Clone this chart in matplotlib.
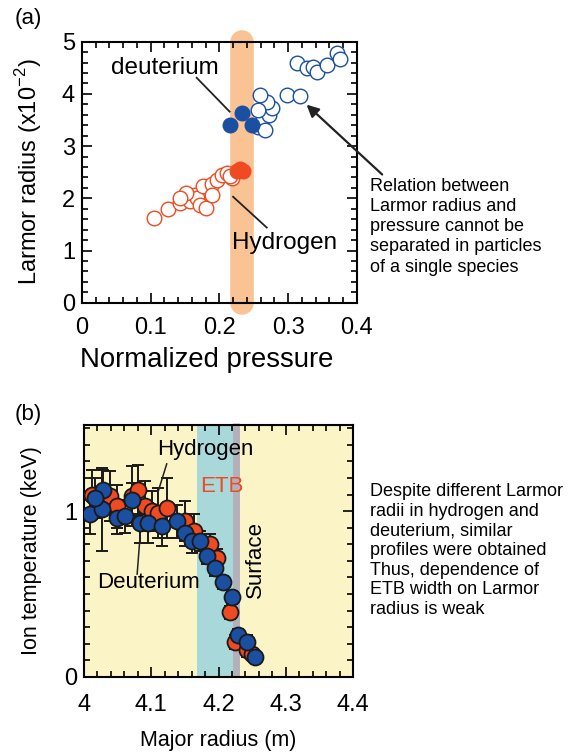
import matplotlib
matplotlib.use("Agg")
import matplotlib.pyplot as plt
from matplotlib.ticker import MultipleLocator

plt.rcParams['font.family'] = ['Liberation Sans', 'DejaVu Sans']

# ---- panel (a) data: normalized pressure vs Larmor radius (x1e-2)
h_open_p = [0.105, 0.125, 0.143, 0.157, 0.164, 0.167, 0.172, 0.181, 0.176,
            0.189, 0.189, 0.196, 0.204, 0.211, 0.218, 0.152, 0.143, 0.215]
h_open_r = [1.63, 1.79, 1.91, 1.95, 2.07, 2.00, 1.88, 1.82, 2.23,
            2.27, 2.07, 2.36, 2.45, 2.48, 2.39, 2.10, 2.00, 2.42]
h_fill_p = [0.225, 0.230, 0.235]
h_fill_r = [2.52, 2.57, 2.53]
d_fill_p = [0.215, 0.233, 0.247]
d_fill_r = [3.41, 3.63, 3.41]
d_open_p = [0.256, 0.261, 0.263, 0.273, 0.276, 0.269, 0.259, 0.256, 0.266, 0.298,
            0.317, 0.313, 0.327, 0.336, 0.342, 0.356, 0.372, 0.375]
d_open_r = [3.37, 3.40, 3.54, 3.60, 3.73, 3.85, 3.98, 3.70, 3.30, 3.98,
            3.96, 4.60, 4.50, 4.52, 4.42, 4.56, 4.79, 4.66]

# ---- panel (b) data: major radius vs ion temperature
h_R = [4.012, 4.039, 4.049, 4.071, 4.080, 4.091, 4.101, 4.110, 4.123,
       4.150, 4.163, 4.187, 4.198, 4.217, 4.225, 4.242, 4.250]
h_T = [1.10, 1.09, 1.03, 1.09, 1.13, 1.03, 1.00, 0.99, 1.02,
       0.94, 0.88, 0.80, 0.72, 0.39, 0.21, 0.16, 0.14]
h_err = [0.15, 0.15, 0.13, 0.18, 0.15, 0.15, 0.12, 0.15, 0.18,
         0.12, 0.10, 0.06, 0.05, 0.04, 0.04, 0.04, 0.03]
d_R = [4.009, 4.027, 4.028, 4.016, 4.049, 4.061, 4.071, 4.083, 4.095, 4.116,
       4.138, 4.150, 4.160, 4.172, 4.183, 4.195, 4.207, 4.220, 4.229, 4.242, 4.254]
d_T = [0.98, 1.01, 1.13, 1.08, 0.96, 0.97, 1.07, 0.93, 0.93, 0.91,
       0.94, 0.87, 0.82, 0.82, 0.73, 0.66, 0.57, 0.48, 0.25, 0.21, 0.12]
d_err = [0.12, 0.25, 0.12, 0.12, 0.10, 0.10, 0.10, 0.12, 0.12, 0.12,
         0.10, 0.08, 0.07, 0.06, 0.05, 0.05, 0.04, 0.04, 0.04, 0.04, 0.03]

RED = '#EF4A22'
BLUE = '#1A4FA2'

fig = plt.figure(figsize=(5.81, 7.53), dpi=100)


def style_axes(ax):
    for s in ax.spines.values():
        s.set_linewidth(1.5)
    ax.tick_params(which='both', direction='in', top=True, right=True, width=1.2)
    ax.tick_params(which='major', length=7, labelsize=17)
    ax.tick_params(which='minor', length=4)


# ================= panel (a)
ax1 = fig.add_axes([0.141, 0.598, 0.473, 0.3466])
ax1.set_xlim(0, 0.4)
ax1.set_ylim(0, 5)
style_axes(ax1)
ax1.tick_params(axis='x', pad=10)
ax1.tick_params(axis='y', pad=5)
ax1.set_xticks([0, 0.1, 0.2, 0.3, 0.4])
ax1.set_xticklabels(['0', '0.1', '0.2', '0.3', '0.4'])
ax1.xaxis.set_minor_locator(MultipleLocator(0.02))
ax1.yaxis.set_major_locator(MultipleLocator(1))
ax1.yaxis.set_minor_locator(MultipleLocator(0.2))

# orange band
ax1.plot([0.233, 0.233], [0, 5], color='#F9C393', lw=17, solid_capstyle='round',
         clip_on=False, zorder=1)

ax1.plot(h_open_p, h_open_r, 'o', ms=10.5, mfc='white', mec=RED, mew=1.0, zorder=3)
ax1.plot(h_fill_p, h_fill_r, 'o', ms=10.5, color=RED, zorder=4)
ax1.plot(d_open_p, d_open_r, 'o', ms=10.5, mfc='white', mec=BLUE, mew=1.0, zorder=3)
ax1.plot(d_fill_p, d_fill_r, 'o', ms=10.5, color=BLUE, zorder=4)

ax1.text(0.121, 4.5, 'deuterium', fontsize=17.5, ha='center', va='center', zorder=5)
ax1.plot([0.167, 0.215], [4.31, 3.66], color='#222222', lw=1.3, zorder=5)
ax1.text(0.295, 1.15, 'Hydrogen', fontsize=17.5, ha='center', va='center', zorder=5)
ax1.plot([0.220, 0.269], [2.03, 1.44], color='#222222', lw=1.3, zorder=5)
ax1.annotate('', xy=(0.324, 3.83), xytext=(0.44, 2.42),
             arrowprops=dict(arrowstyle='-|>', color='#222222', lw=1.6,
                             mutation_scale=18),
             annotation_clip=False, zorder=6)

ax1.set_xlabel('Normalized pressure', fontsize=19.8)
ax1.set_ylabel('Larmor radius (x10$^{\\mathregular{-2}}$)', fontsize=17)
ax1.xaxis.set_label_coords(0.455, -0.17)
ax1.yaxis.set_label_coords(-0.137, 0.5)

fig.text(0.026, 0.975, '(a)', fontsize=16, va='center', ha='left')
fig.text(0.637, 0.764,
         'Relation between\nLarmor radius and\npressure cannot be\n'
         'separated in particles\nof a single species',
         fontsize=13, va='top', ha='left', linespacing=1.25)

# ================= panel (b)
ax2 = fig.add_axes([0.1446, 0.101, 0.463, 0.3347])
ax2.set_xlim(4.0, 4.4)
ax2.set_ylim(0, 1.52)
style_axes(ax2)
ax2.set_facecolor('#FBF4C6')
ax2.tick_params(axis='x', pad=12)
ax2.tick_params(axis='y', pad=5)
ax2.set_xticks([4.0, 4.1, 4.2, 4.3, 4.4])
ax2.set_xticklabels(['4', '4.1', '4.2', '4.3', '4.4'])
ax2.xaxis.set_minor_locator(MultipleLocator(0.02))
ax2.set_yticks([0, 1])
ax2.yaxis.set_minor_locator(MultipleLocator(0.1))

ax2.axvspan(4.168, 4.222, color='#A8D8DA', zorder=1, lw=0)
ax2.plot([4.226, 4.226], [0, 1.53], color='#B2B1BB', lw=5, solid_capstyle='butt',
         clip_on=False, zorder=1.5)

ax2.errorbar(h_R, h_T, yerr=h_err, fmt='none', ecolor='#1a1a1a', elinewidth=1.4,
             capsize=4.5, capthick=1.4, zorder=2)
ax2.errorbar(d_R, d_T, yerr=d_err, fmt='none', ecolor='#1a1a1a', elinewidth=1.4,
             capsize=4.5, capthick=1.4, zorder=2)
ax2.plot(h_R, h_T, 'o', ms=11.5, mfc=RED, mec='#1a1a1a', mew=1.3, zorder=3)
ax2.plot(d_R, d_T, 'o', ms=11.5, mfc=BLUE, mec='#1a1a1a', mew=1.3, zorder=4)

ax2.text(4.108, 1.37, 'Hydrogen', fontsize=16, ha='left', va='center', zorder=5)
ax2.plot([4.123, 4.110], [1.285, 1.115], color='#222222', lw=1.1, zorder=5)
ax2.text(4.02, 0.57, 'Deuterium', fontsize=16, ha='left', va='center', zorder=5)
ax2.plot([4.083, 4.079], [0.83, 0.62], color='#222222', lw=1.1, zorder=5)
ax2.text(4.172, 1.15, 'ETB', fontsize=16, color=RED, ha='left', va='center', zorder=5)
ax2.text(4.255, 0.71, 'Surface', fontsize=16, rotation=90, ha='center', va='center',
         zorder=5)

ax2.set_xlabel('Major radius (m)', fontsize=15.5)
ax2.set_ylabel('Ion temperature (keV)', fontsize=15.5)
ax2.xaxis.set_label_coords(0.5, -0.21)
ax2.yaxis.set_label_coords(-0.157, 0.5)

fig.text(0.026, 0.45, '(b)', fontsize=16, va='center', ha='left')
fig.text(0.637, 0.358,
         'Despite different Larmor\nradii in hydrogen and\ndeuterium, similar\n'
         'profiles were obtained\nThus, dependence of\nETB width on Larmor\nradius is weak',
         fontsize=13, va='top', ha='left', linespacing=1.2)

fig.savefig('out.png', dpi=100)
